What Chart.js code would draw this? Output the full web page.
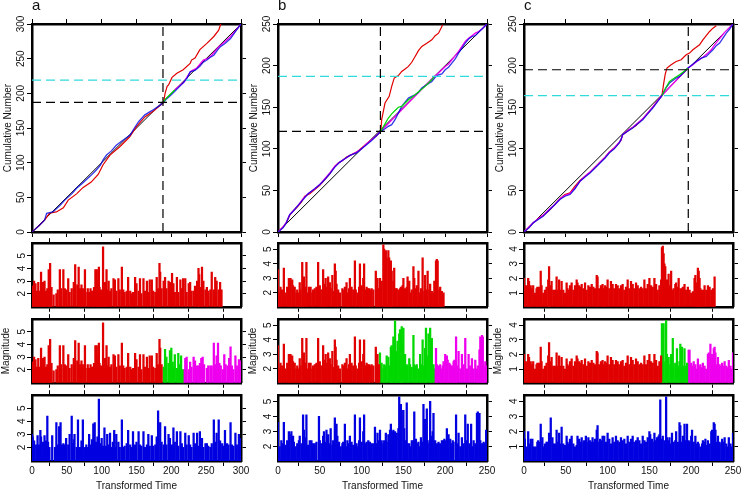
<!DOCTYPE html>
<html>
<head>
<meta charset="utf-8">
<script src="https://cdn.jsdelivr.net/npm/chart.js@4.4.1/dist/chart.umd.min.js"></script>
<style>
  html, body { margin: 0; padding: 0; background: #fff; overflow: hidden; }
  #fig { position: relative; width: 743px; height: 490px; overflow: hidden; }
  #fig canvas { position: absolute; }
</style>
</head>
<body>
<div id="fig"></div>
<script>
// ---- data: column a ----
const aTimeTicks = [0, 50, 100, 150, 200, 250, 300];
const aCumTicks = [0, 50, 100, 150, 200, 250, 300];
const aMagTicks = [2, 3, 4, 5];
const aMagRange = [0.96, 5.99];
const aChangeT = 188, aChangeN = 187, aCyanN = 219;
const aDiag = [[0, 0], [300, 300]];
const aCumRed = [[0,0],[10,9],[18,17],[25,27],[35,29],[45,35],[52,46],[64,55],[73,64],[85,72],[95,83],[102,97],[112,111],[126,123],[140,137],[150,152],[162,166],[174,174],[189,187],[191,200],[194,210],[196,212],[201,223],[208,229],[217,234],[227,243],[229,248],[234,251],[241,263],[251,272],[261,282],[268,291],[271,300]];
const aCumBlue = [[0,0],[10,9],[18,17],[21,27],[30,29],[40,38],[47,46],[57,55],[64,63],[72,70],[84,81],[92,89],[98,96],[102,104],[107,111],[114,117],[121,125],[130,132],[141,140],[147,150],[153,159],[162,169],[172,175],[184,183],[189,187],[193,192],[198,196],[205,203],[212,210],[217,215],[222,221],[227,231],[234,233],[241,239],[246,245],[251,248],[256,252],[261,255],[266,262],[270,267],[277,272],[285,279],[292,289],[300,300]];
const aCumGreen = [[188,187],[193,193],[198,198],[205,205]];
const aCumMagenta = [[205,205],[212,211],[218,216],[224,226],[228,232],[236,236],[241,242],[246,248],[252,250],[258,255],[262,260],[268,267],[275,273],[284,281],[292,290],[300,300]];
const aRedPre = [[0,2.6],[2,2.6],[3,3.0],[5,2.8],[7,2.2],[9,2.9],[10,2.2],[13,3.7],[14,2.3],[16,2.9],[17,2.2],[18,3.0],[20,2.2],[22,2.4],[24,3.9],[26,4.4],[27,2.3],[28,2.5],[31,1.9],[35,2.0],[37,2.3],[40,3.9],[42,2.4],[45,3.9],[47,2.4],[49,2.3],[52,3.2],[54,2.1],[57,2.4],[60,2.9],[62,4.3],[65,2.7],[67,4.1],[69,2.4],[71,2.7],[73,2.4],[76,3.9],[77,2.1],[80,2.4],[82,2.1],[84,2.4],[86,2.2],[88,2.2],[89,2.5],[91,3.9],[93,3.9],[94,3.1],[96,4.1],[97,2.5],[99,2.3],[100,2.2],[102,5.7],[104,2.0],[105,2.9],[107,3.9],[108,2.3],[110,3.0],[112,2.2],[114,2.4],[117,3.2],[119,3.1],[121,2.2],[124,3.2],[126,2.3],[129,4.1],[131,2.3],[133,2.1],[136,2.2],[138,3.3],[141,2.2],[143,2.0],[145,2.1],[148,3.3],[150,2.8],[153,2.2],[155,3.2],[157,2.0],[160,3.2],[162,2.2],[165,3.0],[167,2.1],[169,3.1],[172,3.1],[174,2.2],[177,2.1],[179,3.3],[181,2.4],[183,4.4],[184,3.7],[186,2.4]];
const aRedPost = [[189,3.0],[191,3.3],[193,2.4],[196,3.0],[198,2.9],[201,3.6],[203,2.8],[205,2.1],[208,3.3],[210,2.1],[213,3.1],[215,2.4],[217,3.2],[220,3.2],[222,2.1],[225,2.8],[227,2.9],[229,2.2],[232,2.2],[234,2.6],[237,3.0],[239,4.0],[240,3.5],[242,2.5],[244,4.1],[246,3.0],[249,2.3],[251,2.5],[253,2.2],[256,2.3],[258,3.7],[261,2.3],[263,3.3],[265,3.0],[268,2.3],[270,2.9],[272,2.3]];
const aGreen = [[189,2.2],[191,3.6],[193,3.0],[196,2.5],[198,3.5],[200,3.7],[202,2.6],[203,2.2],[205,3.2],[208,2.1],[210,3.3],[212,2.4],[214,3.1],[216,2.0]];
const aMagenta = [[218,2.0],[220,2.9],[222,3.0],[225,2.0],[227,2.6],[229,2.2],[232,3.0],[234,2.7],[237,2.3],[239,2.3],[241,2.5],[243,2.9],[245,3.0],[247,2.4],[251,2.1],[253,2.3],[256,2.3],[258,2.3],[261,4.1],[263,2.4],[265,3.1],[267,4.1],[269,2.5],[271,2.3],[274,2.0],[276,3.2],[278,2.4],[281,2.3],[283,2.9],[285,3.8],[287,2.3],[289,2.0],[292,3.1],[294,2.3],[297,2.8],[299,2.7]];
const aBlue = [[0,3.0],[1,2.8],[3,2.5],[6,2.2],[8,2.9],[10,2.2],[12,3.3],[13,2.8],[16,2.4],[18,2.9],[20,2.5],[22,4.4],[23,2.4],[25,2.0],[29,2.9],[33,2.0],[35,3.9],[37,2.2],[39,3.6],[41,3.9],[43,2.2],[45,2.3],[47,2.2],[49,2.7],[52,2.2],[54,3.0],[57,4.4],[58,2.3],[60,2.6],[61,3.0],[64,2.0],[66,4.1],[69,2.0],[71,2.5],[73,4.1],[76,2.0],[78,2.2],[80,2.0],[82,3.0],[84,2.2],[86,2.6],[88,3.8],[90,3.9],[92,2.4],[94,2.8],[96,5.7],[98,2.3],[100,2.7],[102,2.1],[104,3.5],[106,2.1],[108,3.0],[110,2.2],[112,3.1],[114,2.0],[116,2.4],[118,3.3],[120,2.0],[121,3.0],[124,2.4],[126,2.0],[129,4.1],[131,2.0],[133,2.1],[136,2.3],[138,3.3],[141,2.2],[143,2.0],[145,3.2],[148,2.2],[150,2.4],[153,3.2],[155,2.2],[157,2.1],[160,3.2],[162,2.0],[165,2.2],[167,3.0],[169,2.1],[172,2.9],[174,2.1],[177,2.2],[179,2.8],[181,4.8],[184,3.9],[186,2.4],[189,2.2],[191,3.6],[193,2.2],[196,3.0],[198,2.7],[201,2.2],[203,3.5],[205,2.4],[208,3.2],[210,2.1],[213,3.2],[215,2.3],[217,2.0],[220,3.1],[222,2.2],[225,2.9],[227,2.2],[229,2.0],[232,3.1],[234,2.3],[237,3.1],[239,2.1],[241,3.2],[244,2.7],[246,2.0],[249,2.3],[251,2.3],[253,2.1],[256,2.0],[258,2.3],[261,4.1],[263,2.4],[265,3.1],[268,4.1],[270,2.5],[273,2.3],[275,2.1],[277,3.3],[280,2.3],[282,2.2],[285,3.9],[287,2.2],[289,2.1],[292,3.1],[294,2.2],[297,3.0],[299,2.7]];

// ---- data: column b ----
const bTimeTicks = [0, 50, 100, 150, 200, 250];
const bCumTicks = [0, 50, 100, 150, 200, 250];
const bMagTicks = [2, 3, 4, 5];
const bMagRange = [1.04, 5.41];
const bChangeT = 122.5, bChangeN = 121, bCyanN = 187;
const bDiag = [[0, 0], [250, 250]];
const bCumRed = [[0,0],[6,6],[10,11],[14,20],[18,25],[24,31],[28,36],[32,43],[38,46],[44,51],[50,56],[56,63],[62,70],[68,79],[72,83],[76,85],[82,90],[88,93],[94,96],[100,101],[106,106],[112,111],[118,116],[123,121],[124,135],[126,145],[128,155],[133,163],[136,175],[139,185],[144,188],[148,193],[152,196],[156,199],[160,204],[164,211],[168,218],[172,223],[178,227],[184,231],[188,236],[192,239],[195,245],[197,249]];
const bCumBlue = [[0,0],[6,5],[10,11],[14,21],[18,25],[24,32],[30,39],[36,46],[44,52],[50,57],[56,63],[62,70],[68,78],[74,84],[80,88],[86,92],[94,95],[100,100],[106,105],[112,110],[118,116],[123,121],[128,124],[132,127],[136,129],[140,135],[144,143],[148,151],[152,156],[156,161],[160,163],[164,165],[168,168],[172,173],[178,177],[184,181],[188,186],[192,189],[196,190],[200,195],[204,198],[208,203],[212,208],[216,215],[220,221],[224,227],[228,232],[232,235],[236,236],[240,240],[244,244],[250,250]];
const bCumGreen = [[123,121],[128,130],[132,137],[136,142],[140,146],[144,150],[148,151],[152,155],[156,159],[160,162],[164,165],[170,170],[176,175],[180,179],[184,183],[187,187]];
const bCumMagenta = [[0,0],[6,6],[10,12],[14,21],[18,25],[24,32],[30,40],[36,46],[44,52],[50,57],[56,64],[62,71],[68,79],[74,84],[80,88],[86,92],[94,96],[100,100],[106,106],[112,111],[118,116],[123,121],[187,187],[192,191],[196,195],[200,199],[204,202],[208,207],[212,212],[216,217],[220,223],[224,229],[228,233],[232,236],[236,239],[240,241],[244,244],[250,250]];
const bRedPre = [[0,3.6],[2,2.0],[3,2.4],[5,2.2],[7,3.7],[9,2.0],[11,2.4],[13,3.0],[14,2.8],[15,3.0],[17,2.9],[18,2.5],[20,2.4],[22,2.0],[23,2.2],[25,2.0],[26,2.7],[27,2.2],[29,4.1],[30,3.0],[31,3.1],[33,2.4],[34,4.1],[35,2.0],[37,2.4],[39,2.4],[41,2.0],[42,2.2],[44,2.3],[46,2.4],[48,4.1],[50,2.5],[51,2.2],[53,2.2],[54,3.6],[55,2.6],[57,3.0],[58,2.4],[60,3.1],[62,2.7],[63,2.3],[65,3.2],[66,2.1],[68,4.0],[69,3.5],[70,2.6],[72,2.2],[74,2.0],[77,2.3],[78,2.2],[80,2.4],[82,2.7],[83,2.0],[85,2.3],[86,3.0],[88,2.4],[90,2.2],[92,4.2],[93,2.2],[95,2.0],[97,2.4],[98,4.0],[100,2.5],[102,3.0],[103,4.0],[104,2.2],[106,2.4],[107,2.3],[109,2.3],[110,2.2],[112,2.3],[114,2.2],[117,3.5],[118,2.2],[119,3.0],[121,2.3]];
const bRedPost = [[122,3.0],[124,2.8],[126,5.3],[127,5.0],[128,3.4],[129,4.9],[130,4.4],[132,4.9],[133,4.4],[134,3.0],[135,4.2],[136,3.5],[138,2.8],[139,3.7],[141,2.3],[142,2.3],[144,2.2],[146,2.3],[147,2.4],[149,2.5],[150,3.0],[152,2.3],[154,2.4],[155,3.1],[157,2.8],[158,2.0],[160,2.2],[162,3.8],[163,3.0],[165,2.3],[166,2.5],[168,3.5],[170,2.0],[171,2.3],[173,4.4],[175,2.1],[176,3.2],[178,2.2],[179,3.5],[181,2.2],[182,2.6],[184,2.1],[186,2.0],[187,2.8],[189,4.2],[190,4.3],[191,4.2],[193,2.2],[194,2.4],[196,2.1],[198,2.0]];
const bGreen = [[122,3.1],[124,2.4],[126,2.0],[127,2.3],[129,2.2],[130,2.9],[132,2.8],[134,2.2],[135,3.5],[136,3.6],[137,3.2],[138,4.2],[140,5.3],[141,3.2],[142,2.7],[143,3.9],[145,4.4],[146,4.7],[147,4.3],[148,4.9],[149,3.6],[150,4.8],[152,3.0],[154,2.3],[155,2.2],[157,2.7],[158,2.3],[160,2.1],[162,4.3],[163,2.3],[165,2.2],[166,2.3],[168,2.0],[170,3.0],[171,2.3],[173,4.0],[174,2.2],[176,3.4],[177,4.8],[178,2.9],[180,4.4],[182,4.8],[183,2.3],[184,4.1],[186,2.3]];
const bMagenta = [[187,2.0],[189,3.4],[190,2.3],[192,2.2],[194,2.3],[195,2.0],[197,2.2],[198,2.5],[200,3.0],[202,2.9],[203,2.6],[205,2.4],[206,2.3],[208,2.2],[210,2.5],[211,2.6],[213,4.2],[214,2.2],[216,3.2],[218,2.0],[220,3.0],[222,2.3],[224,4.1],[226,2.0],[228,3.0],[230,2.2],[232,2.7],[234,2.0],[236,2.6],[238,2.0],[239,2.2],[241,3.3],[242,4.2],[244,4.3],[245,4.2],[246,2.2],[248,2.5],[249,2.2]];
const bBlue = [[0,3.6],[2,2.0],[4,2.4],[6,2.2],[7,3.6],[9,2.1],[11,2.4],[13,3.0],[14,2.8],[16,3.0],[18,2.7],[19,2.3],[21,2.0],[23,2.2],[25,2.4],[26,2.7],[28,2.2],[30,4.1],[31,3.1],[33,2.6],[34,4.1],[36,2.1],[38,2.4],[40,2.4],[42,2.2],[44,2.2],[46,2.3],[49,4.0],[50,2.4],[52,2.2],[54,2.7],[55,3.0],[57,2.3],[58,3.1],[60,2.8],[62,2.2],[63,3.2],[65,2.1],[66,2.4],[68,3.9],[70,3.5],[71,2.7],[73,2.3],[75,2.0],[77,2.2],[78,2.3],[80,3.5],[82,2.0],[83,2.4],[85,2.2],[86,2.7],[88,2.3],[90,2.1],[92,4.1],[94,2.2],[95,2.0],[97,2.4],[98,3.9],[100,2.3],[102,3.0],[103,4.1],[105,2.2],[106,2.3],[108,2.4],[110,2.3],[112,2.2],[114,2.2],[116,3.3],[118,2.2],[119,2.9],[121,2.4],[122,3.1],[124,2.4],[126,2.2],[127,2.4],[129,2.9],[130,2.3],[132,2.8],[134,3.1],[135,3.5],[137,3.0],[138,3.1],[140,3.0],[142,2.9],[144,3.2],[145,5.3],[146,3.8],[147,4.8],[148,4.4],[150,4.4],[151,3.2],[152,2.4],[154,4.9],[155,2.2],[157,2.2],[158,2.0],[160,2.4],[162,2.4],[163,4.3],[165,2.5],[166,2.2],[168,2.3],[170,2.0],[171,2.6],[173,2.3],[174,4.8],[176,3.8],[178,4.5],[179,2.4],[181,2.2],[182,5.0],[184,2.7],[185,3.0],[186,4.2],[188,2.4],[190,2.2],[192,2.3],[194,2.2],[196,2.4],[198,2.4],[199,2.5],[201,2.4],[202,3.2],[204,2.8],[206,2.5],[207,2.2],[209,2.4],[210,2.3],[213,4.1],[214,2.2],[216,2.9],[218,2.0],[220,2.6],[222,2.2],[224,4.1],[226,2.4],[227,3.5],[229,2.2],[231,3.5],[233,2.0],[234,2.4],[236,2.2],[238,4.2],[239,4.3],[241,4.2],[242,2.4],[244,2.2],[246,2.3],[247,2.2],[249,3.1]];

// ---- data: column c ----
const cTimeTicks = [0, 50, 100, 150, 200, 250];
const cCumTicks = [0, 50, 100, 150, 200, 250];
const cMagTicks = [1, 2, 3, 4];
const cMagRange = [0.06, 4.40];
const cChangeT = 196.5, cChangeN = 195, cCyanN = 164;
const cDiag = [[0, 0], [250, 250]];
const cCumRed = [[0,0],[6,6],[11,11],[17,16],[23,20],[29,25],[35,31],[43,40],[49,45],[55,47],[61,55],[67,62],[73,67],[79,72],[85,78],[91,84],[97,90],[102,96],[110,103],[116,110],[118,117],[126,123],[134,128],[142,136],[148,143],[154,150],[160,158],[165,164],[167,178],[169,190],[171,197],[176,201],[182,205],[188,207],[194,213],[198,215],[202,219],[206,222],[210,225],[214,231],[218,236],[222,241],[226,245],[230,248]];
const cCumBlue = [[0,0],[6,5],[11,11],[17,15],[23,19],[27,23],[31,27],[37,33],[43,39],[49,43],[55,45],[61,52],[67,61],[73,66],[79,71],[85,77],[91,83],[97,89],[102,95],[108,100],[114,107],[116,111],[118,117],[124,121],[130,125],[136,130],[142,135],[148,142],[154,149],[160,157],[165,164],[169,172],[174,179],[178,182],[182,185],[186,187],[190,191],[196,197],[200,200],[206,205],[212,209],[218,211],[222,215],[226,219],[230,224],[234,227],[238,233],[242,239],[246,244],[250,250]];
const cCumGreen = [[165,164],[170,174],[174,181],[180,185],[186,189],[190,192],[196,197]];
const cCumMagenta = [[0,0],[6,6],[11,11],[17,16],[23,20],[27,24],[31,28],[37,33],[43,40],[49,44],[55,46],[61,53],[67,61],[73,67],[79,72],[85,78],[91,84],[97,90],[102,96],[108,101],[114,108],[116,111],[118,117],[124,122],[130,126],[136,131],[142,136],[148,143],[154,150],[160,158],[165,164],[196,197],[202,201],[208,206],[214,210],[220,215],[224,219],[228,225],[232,230],[236,235],[240,240],[245,245],[250,250]];
const cRedPre = [[0,2.0],[1,1.5],[3,1.5],[5,2.0],[6,1.8],[8,1.5],[9,1.3],[11,1.5],[13,1.0],[15,1.3],[16,1.4],[18,1.4],[20,2.5],[21,1.5],[23,1.0],[25,1.2],[27,1.4],[29,1.9],[30,2.8],[31,1.5],[33,1.8],[35,1.2],[37,1.2],[39,2.1],[40,1.2],[42,1.9],[43,1.2],[45,1.8],[47,1.2],[49,1.0],[51,1.7],[52,1.3],[54,1.2],[55,1.5],[57,1.7],[59,1.2],[61,1.5],[63,1.9],[64,1.7],[66,1.5],[67,1.4],[69,1.6],[71,1.3],[73,1.7],[75,1.2],[77,1.5],[79,1.4],[81,1.6],[83,1.4],[85,1.3],[87,2.2],[88,2.1],[90,1.3],[92,1.5],[94,1.6],[95,1.3],[97,1.5],[98,1.4],[100,1.9],[102,1.3],[104,1.8],[106,1.6],[108,1.3],[110,1.6],[112,1.5],[114,1.3],[116,1.5],[118,1.6],[120,1.2],[122,1.4],[124,1.9],[126,1.3],[128,1.8],[130,1.6],[132,1.3],[134,1.7],[136,1.5],[138,1.3],[140,1.4],[142,1.3],[144,1.9],[146,1.3],[148,1.6],[150,2.0],[152,1.5],[154,1.4],[156,2.0],[158,1.6],[160,1.2],[162,1.5],[164,1.9]];
const cRedPost = [[165,4.1],[166,4.2],[167,3.7],[168,3.0],[169,2.8],[171,1.9],[172,1.8],[173,2.3],[174,1.5],[176,2.5],[177,1.2],[179,1.3],[181,1.6],[182,1.7],[184,1.4],[185,2.0],[187,1.3],[189,1.3],[190,1.4],[192,1.6],[194,1.2],[196,1.4],[198,1.2],[200,1.0],[202,1.1],[204,2.0],[205,2.2],[207,1.7],[208,2.7],[209,2.5],[210,2.0],[211,1.3],[213,1.2],[215,1.2],[216,1.5],[218,1.2],[220,1.5],[222,1.4],[224,1.2],[226,1.3],[228,2.1]];
const cGreen = [[165,4.1],[166,1.5],[167,4.1],[169,1.5],[170,4.3],[171,2.0],[173,1.8],[175,1.3],[176,2.0],[178,3.1],[179,1.3],[181,1.4],[183,2.4],[184,1.2],[186,1.5],[187,2.7],[189,2.5],[191,1.2],[192,2.4],[194,1.2],[195,1.4]];
const cMagenta = [[197,2.3],[198,2.3],[200,1.4],[201,1.2],[203,1.5],[205,1.3],[206,1.0],[208,1.7],[209,1.2],[211,1.3],[213,1.1],[214,1.4],[216,1.2],[218,1.0],[220,2.0],[221,2.1],[223,2.7],[224,1.5],[225,2.0],[227,2.4],[228,2.5],[229,2.1],[231,1.3],[232,1.8],[234,1.3],[236,1.2],[237,1.4],[239,1.2],[240,1.5],[242,1.2],[244,1.1],[245,1.6],[247,1.2],[248,1.0],[250,2.1]];
const cBlue = [[0,2.0],[1,1.5],[3,1.0],[5,2.0],[7,1.2],[8,1.5],[10,1.5],[12,1.0],[14,1.0],[16,1.3],[17,1.4],[19,1.3],[20,2.5],[22,1.6],[24,1.0],[25,1.2],[27,1.3],[28,1.3],[30,1.9],[31,1.8],[32,2.9],[34,1.6],[35,1.2],[37,1.2],[39,2.1],[40,1.3],[42,1.9],[43,1.2],[45,2.3],[47,1.2],[49,1.1],[51,1.7],[52,1.3],[54,1.2],[55,1.5],[57,1.7],[59,1.2],[61,1.0],[63,1.1],[64,1.7],[66,1.5],[67,1.3],[69,1.6],[71,1.3],[72,1.4],[74,1.7],[75,1.3],[77,1.6],[79,1.4],[80,1.3],[82,1.6],[83,1.3],[85,1.5],[87,2.1],[88,2.4],[90,1.3],[91,1.5],[93,1.4],[94,1.7],[96,1.7],[98,1.3],[100,1.9],[102,1.5],[104,1.2],[106,1.6],[108,1.3],[110,1.7],[112,1.4],[114,1.3],[116,1.6],[118,1.4],[120,1.5],[122,1.2],[124,1.7],[126,1.3],[128,1.5],[130,1.7],[132,1.3],[134,1.4],[136,1.6],[138,1.4],[140,1.2],[142,1.7],[144,1.4],[146,1.3],[148,1.6],[150,2.0],[151,1.8],[153,1.5],[154,1.3],[156,1.9],[157,1.4],[159,1.6],[161,1.7],[162,1.8],[163,4.1],[165,1.5],[166,1.7],[168,1.4],[170,4.3],[171,1.6],[173,1.4],[174,1.6],[176,1.2],[177,1.9],[179,1.3],[181,1.4],[182,2.0],[184,1.3],[186,2.6],[187,2.4],[189,1.3],[190,1.7],[192,2.5],[193,1.4],[195,2.5],[197,1.4],[198,1.3],[200,1.7],[201,2.1],[203,1.3],[205,1.7],[206,1.2],[208,1.3],[209,1.2],[211,1.0],[213,1.2],[214,1.4],[216,1.3],[217,1.5],[219,1.1],[220,1.4],[222,1.2],[224,2.0],[225,2.1],[227,2.6],[228,2.5],[229,2.1],[231,1.3],[232,1.7],[234,1.3],[236,1.2],[237,1.5],[239,1.3],[240,1.6],[242,1.2],[244,1.0],[245,1.6],[247,1.2],[248,1.0],[250,1.9]];

// ---- layout (pixels) ----
const PW = 209;               // plot width of every panel
const TOP_Y = 24, TOP_H = 208; // cumulative plots
const BAR_Y = [241, 317, 393], BAR_H = 68;
const AXL = 32, AXR = 12;     // left / right axis strips

const RED = '#e00000', GREEN = '#00d800', BLUE = '#0000e0', MAGENTA = '#ee00ee', CYAN = '#30dada';
const FONT = "'Liberation Sans', Arial, Helvetica, sans-serif";
Chart.defaults.font.family = FONT;
Chart.defaults.font.size = 10;
Chart.defaults.color = '#111';

const columns = [
  { letter: 'a', left: 32, tMax: 300, nMax: 300, tTicks: aTimeTicks, nTicks: aCumTicks, mTicks: aMagTicks, mRange: aMagRange,
    changeT: aChangeT, changeN: aChangeN, cyanN: aCyanN, diag: aDiag,
    cum: { red: aCumRed, green: aCumGreen, blue: aCumBlue, magenta: aCumMagenta },
    redPre: aRedPre, redPost: aRedPost, green: aGreen, magenta: aMagenta, blue: aBlue,
    cumTitleX: 8.5, magTitleX: 6 },
  { letter: 'b', left: 278, tMax: 250, nMax: 250, tTicks: bTimeTicks, nTicks: bCumTicks, mTicks: bMagTicks, mRange: bMagRange,
    changeT: bChangeT, changeN: bChangeN, cyanN: bCyanN, diag: bDiag,
    cum: { red: bCumRed, green: bCumGreen, blue: bCumBlue, magenta: bCumMagenta },
    redPre: bRedPre, redPost: bRedPost, green: bGreen, magenta: bMagenta, blue: bBlue,
    cumTitleX: 254, magTitleX: 253 },
  { letter: 'c', left: 524, tMax: 250, nMax: 250, tTicks: cTimeTicks, nTicks: cCumTicks, mTicks: cMagTicks, mRange: cMagRange,
    changeT: cChangeT, changeN: cChangeN, cyanN: cCyanN, diag: cDiag,
    cum: { red: cCumRed, green: cCumGreen, blue: cCumBlue, magenta: cCumMagenta },
    redPre: cRedPre, redPost: cRedPost, green: cGreen, magenta: cMagenta, blue: cBlue,
    cumTitleX: 500, magTitleX: 498 }
];

const fig = document.getElementById('fig');

function addCanvas(x, y, w, h) {
  const c = document.createElement('canvas');
  c.width = w; c.height = h;
  c.style.left = x + 'px'; c.style.top = y + 'px';
  c.style.width = w + 'px'; c.style.height = h + 'px';
  fig.appendChild(c);
  return c;
}

function pts(arr) { return arr.map(p => ({ x: p[0], y: p[1] })); }

// one side of the box frame, with outward ticks
function axis(pos, min, max, ticks, size, extra) {
  const horiz = pos === 'top' || pos === 'bottom';
  return Object.assign({
    type: 'linear', position: pos, min: min, max: max, offset: false, beginAtZero: false,
    afterBuildTicks: s => { s.ticks = ticks.map(v => ({ value: v })); },
    afterFit: s => { if (horiz) s.height = size; else s.width = size; },
    grid: { display: true, drawOnChartArea: false, drawTicks: true, tickLength: 5, tickWidth: 1, tickColor: '#000' },
    border: { display: true, color: '#000', width: 2.5 },
    ticks: { display: false }
  }, extra || {});
}

function yLabels(pad) {
  return { display: true, minRotation: 90, maxRotation: 90, crossAlign: 'center', padding: pad, autoSkip: false, color: '#111', font: { size: 10 } };
}

function yTitle(text, offset) {
  return { display: true, text: text, color: '#111', font: { size: 10 }, padding: { top: offset - 6, bottom: 0 } };
}

function line(data, color, width, dash) {
  return { data: pts(data), borderColor: color, borderWidth: width, borderDash: dash || [], pointRadius: 0, fill: false, tension: 0 };
}

function cumChart(col) {
  const T = 24, B = 8;
  const cv = addCanvas(col.left - AXL, TOP_Y - T, AXL + PW + AXR, T + TOP_H + B);
  const dashes = [9, 5];
  // first dataset ends up on top
  new Chart(cv, {
    type: 'line',
    data: { datasets: [
      line([[col.changeT, 0], [col.changeT, col.nMax]], '#000', 1.2, dashes),
      line([[0, col.changeN], [col.tMax, col.changeN]], '#000', 1.2, dashes),
      line([[0, col.cyanN], [col.tMax, col.cyanN]], CYAN, 1.2, dashes),
      line(col.cum.green, GREEN, 1.2),
      line(col.cum.blue, 'rgba(0,0,225,0.8)', 1.3),
      line(col.cum.magenta, MAGENTA, 1.3),
      line(col.cum.red, RED, 1.2),
      line(col.diag, '#000', 1)
    ] },
    options: {
      responsive: false, animation: false, devicePixelRatio: 1,
      layout: { padding: 0 },
      plugins: {
        legend: { display: false }, tooltip: { enabled: false },
        title: { display: true, text: col.letter, align: 'start', fullSize: false, color: '#111',
                 font: { size: 15, weight: 'normal' }, padding: { top: -3, bottom: 3 } }
      },
      scales: {
        x: axis('bottom', 0, col.tMax, col.tTicks, B),
        xt: axis('top', 0, col.tMax, col.tTicks, 6),
        y: axis('left', 0, col.nMax, col.nTicks, AXL, {
          ticks: yLabels(-2.5),
          title: yTitle('Cumulative Number', col.cumTitleX - (col.left - AXL))
        }),
        yr: axis('right', 0, col.nMax, col.nTicks, AXR)
      }
    }
  });
}

function bars(data, color) {
  return { data: pts(data), backgroundColor: color, borderWidth: 0, barThickness: 1.6, grouped: false };
}

function barChart(col, row, sets) {
  const T = 6, B = row === 2 ? 31 : 6;
  const cv = addCanvas(col.left - AXL, BAR_Y[row] - T, AXL + PW + AXR, T + BAR_H + B);
  const xExtra = row === 2 ? {
    ticks: { display: true, padding: -1, autoSkip: false, maxRotation: 0, color: '#111', font: { size: 10 } },
    title: { display: true, text: 'Transformed Time', color: '#111', font: { size: 10 }, padding: { top: 0, bottom: 0 } }
  } : {};
  const yExtra = { ticks: yLabels(2.2) };
  if (row === 1) yExtra.title = yTitle('Magnitude', col.magTitleX - (col.left - AXL));
  new Chart(cv, {
    type: 'bar',
    data: { datasets: sets },
    options: {
      responsive: false, animation: false, devicePixelRatio: 1,
      layout: { padding: 0 },
      plugins: { legend: { display: false }, tooltip: { enabled: false } },
      scales: {
        x: axis('bottom', 0, col.tMax, col.tTicks, B, xExtra),
        xt: axis('top', 0, col.tMax, col.tTicks, T),
        y: axis('left', col.mRange[0], col.mRange[1], col.mTicks, AXL, yExtra),
        yr: axis('right', col.mRange[0], col.mRange[1], col.mTicks, AXR)
      }
    }
  });
}

columns.forEach(col => {
  cumChart(col);
  // single-model fit
  barChart(col, 0, [bars(col.redPre, RED), bars(col.redPost, RED)]);
  // change-point fit: before, during and after
  barChart(col, 1, [bars(col.redPre, RED), bars(col.green, GREEN), bars(col.magenta, MAGENTA)]);
  // full-sequence fit
  barChart(col, 2, [bars(col.blue, BLUE)]);
});
</script>
</body>
</html>
